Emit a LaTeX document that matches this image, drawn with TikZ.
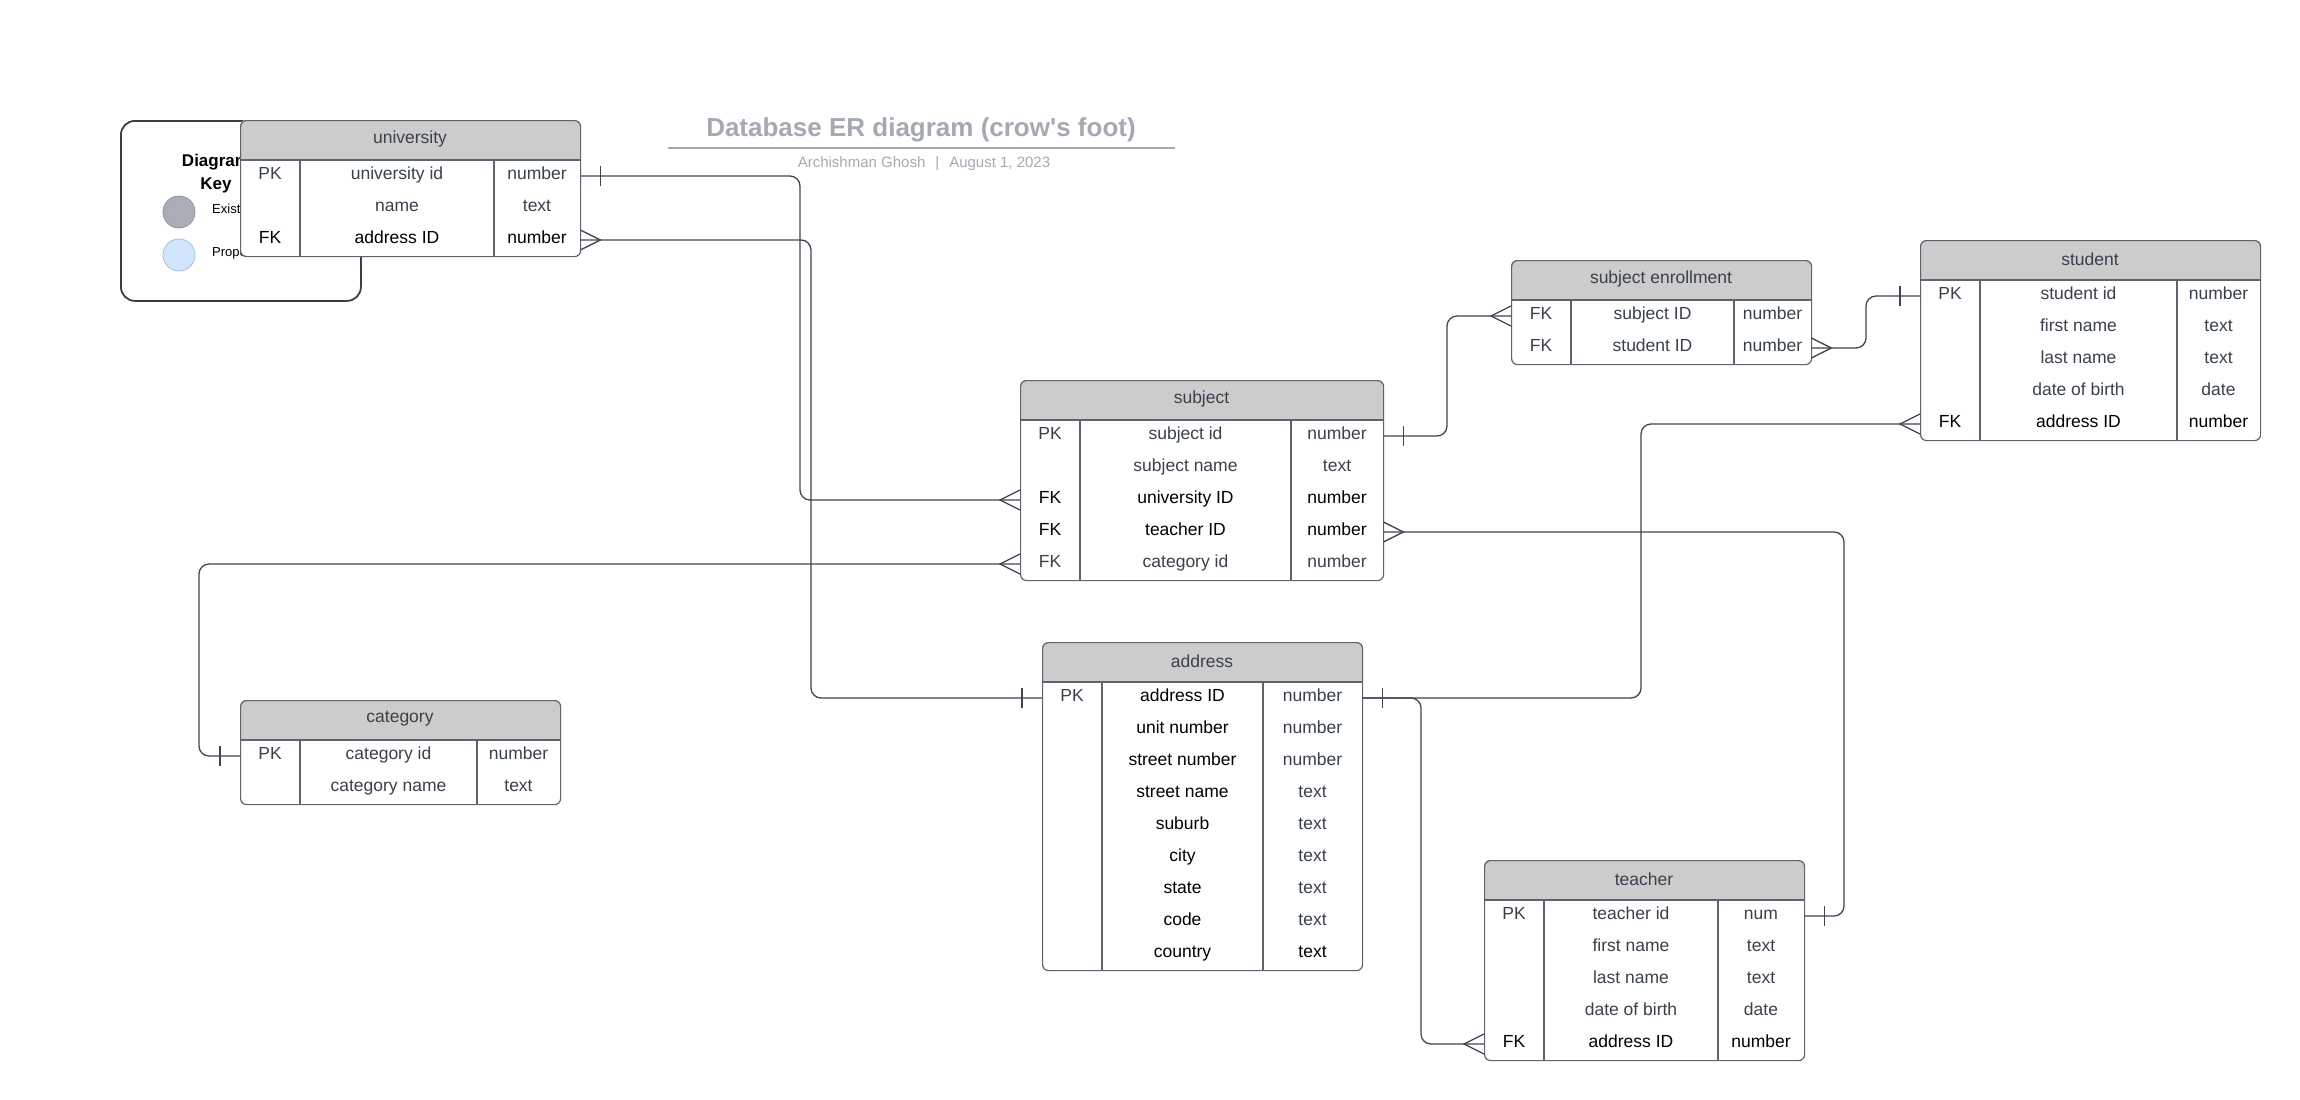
\documentclass[tikz,border=0pt]{standalone}
\usepackage{fontspec}
\setmainfont{Liberation Sans}
\usetikzlibrary{calc}

\definecolor{headfill}{HTML}{CCCCCC}
\definecolor{tabcol}{HTML}{5E646D}
\definecolor{conncol}{HTML}{40464F}
\definecolor{tg}{HTML}{3A414B}
\definecolor{tk}{HTML}{000000}
\definecolor{titlegray}{HTML}{A5A9B2}
\definecolor{keygray}{HTML}{A9ADB5}
\definecolor{keygrayedge}{HTML}{8E939B}
\definecolor{keyblue}{HTML}{D1E5FC}
\definecolor{keyblueedge}{HTML}{A9BFD8}
\definecolor{keyedge}{HTML}{3A3F47}

\tikzset{
  tabline/.style={draw=tabcol, line width=1.2pt},
  conn/.style={draw=conncol, line width=1.3pt, rounded corners=10},
  endmk/.style={draw=conncol, line width=1.3pt},
  headtext/.style={font=\fontsize{17.5}{20}\selectfont, text=tg, inner sep=0},
  celltext/.style={font=\fontsize{17.5}{20}\selectfont, inner sep=0, anchor=base},
  rowbox/.style={rectangle, inner sep=0, minimum height=32},
}

% crow's foot (many) at an entity edge; #2 = +1 to the right, -1 to the left
\newcommand\crowout[2]{%
  \draw[endmk] ($(#1)+(0,-10)$) -- ($(#1)+(#2*20,0)$) -- ($(#1)+(0,10)$);}
% single bar (one) at an entity edge
\newcommand\barout[2]{%
  \draw[endmk] ($(#1)+(#2*20,-10)$) -- ($(#1)+(#2*20,10)$);}

% entity table: name, x, y, width, first divider, second divider, title, rows, row list
\newcommand\ertable[9]{%
  \pgfmathsetmacro\tabh{40+32*#8}
  \fill[white, rounded corners=6] (#2,#3) rectangle ++(#4,\tabh);
  \begin{scope}
    \clip[rounded corners=6] (#2,#3) rectangle ++(#4,\tabh);
    \fill[headfill] (#2,#3) rectangle ++(#4,40);
  \end{scope}
  \draw[tabline] (#2,#3+40) -- ++(#4,0);
  \draw[tabline] (#2+#5,#3+40) -- ++(0,32*#8);
  \draw[tabline] (#2+#6,#3+40) -- ++(0,32*#8);
  \node[headtext] (#1-title) at (#2+#4/2,#3+19) {#7};
  \foreach \kk/\ff/\tt/\ca/\cb/\cc [count=\i] in {#9} {
    \node[rowbox, minimum width=#4, anchor=west] (#1-\i) at (#2,#3+40+32*\i-16) {};
    \node[celltext, text=\ca] (#1-\i-k) at (#2+#5/2,#3+40+32*\i-12.5) {\kk};
    \node[celltext, text=\cb] (#1-\i-f) at (#2+#5/2+#6/2,#3+40+32*\i-12.5) {\ff};
    \node[celltext, text=\cc] (#1-\i-t) at (#2+#6/2+#4/2,#3+40+32*\i-12.5) {\tt};
  }
  \node[draw=tabcol, line width=1.2pt, rounded corners=6, inner sep=0,
        minimum width=#4, minimum height=\tabh, anchor=north west] (#1) at (#2,#3) {};
}

\begin{document}
\begin{tikzpicture}[x=1pt, y=-1pt]
\fill[white] (0,0) rectangle (2300,1100);
\useasboundingbox (0,0) rectangle (2300,1100);

% title block
\node[font=\bfseries\fontsize{26}{30}\selectfont, text=titlegray] (title) at (921,130)
  {Database ER diagram (crow\textquotesingle s foot)};
\draw[titlegray, line width=1.8pt] (668,148) -- (1175,148);
\node[font=\fontsize{15}{17}\selectfont, text=titlegray] (subtitle) at (924,164)
  {Archishman Ghosh\hspace{10pt}|\hspace{10pt}August 1, 2023};

% diagram key
\node[draw=keyedge, line width=1.8pt, rounded corners=14, inner sep=0,
      minimum width=240, minimum height=180, anchor=north west] (keybox) at (120,120) {};
\node[font=\bfseries\fontsize{17}{23}\selectfont, align=center, inner sep=0] (keytitle) at (216,174) {Diagram\\Key};
\node[circle, fill=keygray, draw=keygrayedge, line width=0.8pt, minimum size=32, inner sep=0] (keyexist) at (179,212) {};
\node[circle, fill=keyblue, draw=keyblueedge, line width=0.8pt, minimum size=32, inner sep=0] (keyprop) at (179,255) {};
\node[anchor=west, font=\fontsize{13}{15}\selectfont, inner sep=0] (keyexistlbl) at (212,210) {Existing table};
\node[anchor=west, font=\fontsize{13}{15}\selectfont, inner sep=0] (keyproplbl) at (212,253) {Proposed table};

% connector channels
\coordinate (xa) at (800,0);
\coordinate (xb) at (811,0);
\coordinate (xc) at (1447,0);
\coordinate (xd) at (1866,0);
\coordinate (xe) at (1641,0);
\coordinate (xf) at (1421,0);
\coordinate (xg) at (1844,0);
\coordinate (xh) at (199,0);

% entities
\ertable{univ}{240}{120}{340}{60}{254}{university}{3}{%
  PK/university id/number/tg/tg/tg,
  {}/name/text/tg/tg/tg,
  FK/address ID/number/tk/tk/tk}
\ertable{subj}{1020}{380}{363}{60}{271}{subject}{5}{%
  PK/subject id/number/tg/tg/tg,
  {}/subject name/text/tg/tg/tg,
  FK/university ID/number/tk/tk/tk,
  FK/teacher ID/number/tk/tk/tk,
  FK/category id/number/tg/tg/tg}
\ertable{enr}{1511}{260}{300}{60}{223}{subject enrollment}{2}{%
  FK/subject ID/number/tg/tg/tg,
  FK/student ID/number/tg/tg/tg}
\ertable{stud}{1920}{240}{340}{60}{257}{student}{5}{%
  PK/student id/number/tg/tg/tg,
  {}/first name/text/tg/tg/tg,
  {}/last name/text/tg/tg/tg,
  {}/date of birth/date/tg/tg/tg,
  FK/address ID/number/tk/tk/tk}
\ertable{cat}{240}{700}{320}{60}{237}{category}{2}{%
  PK/category id/number/tg/tg/tg,
  {}/category name/text/tg/tg/tg}
\ertable{addr}{1042}{642}{320}{60}{221}{address}{9}{%
  PK/address ID/number/tg/tk/tg,
  {}/unit number/number/tg/tk/tg,
  {}/street number/number/tg/tk/tg,
  {}/street name/text/tg/tk/tg,
  {}/suburb/text/tg/tk/tg,
  {}/city/text/tg/tk/tg,
  {}/state/text/tg/tk/tg,
  {}/code/text/tg/tk/tg,
  {}/country/text/tg/tk/tk}
\ertable{teach}{1484}{860}{320}{60}{234}{teacher}{5}{%
  PK/teacher id/num/tg/tg/tg,
  {}/first name/text/tg/tg/tg,
  {}/last name/text/tg/tg/tg,
  {}/date of birth/date/tg/tg/tg,
  FK/address ID/number/tk/tk/tk}

% relationships
\draw[conn] (univ-1.east) -- (univ-1.east -| xa) |- (subj-3.west);
\barout{univ-1.east}{1}
\crowout{subj-3.west}{-1}

\draw[conn] (univ-3.east) -- (univ-3.east -| xb) |- (addr-1.west);
\crowout{univ-3.east}{1}
\barout{addr-1.west}{-1}

\draw[conn] (subj-1.east) -- (subj-1.east -| xc) |- (enr-1.west);
\barout{subj-1.east}{1}
\crowout{enr-1.west}{-1}

\draw[conn] (enr-2.east) -- (enr-2.east -| xd) |- (stud-1.west);
\crowout{enr-2.east}{1}
\barout{stud-1.west}{-1}

\draw[conn] (stud-5.west) -- (stud-5.west -| xe) |- (addr-1.east);
\crowout{stud-5.west}{-1}
\barout{addr-1.east}{1}

\draw[conn] (addr-1.east) -- (addr-1.east -| xf) |- (teach-5.west);
\crowout{teach-5.west}{-1}

\draw[conn] (subj-4.east) -- (subj-4.east -| xg) |- (teach-1.east);
\crowout{subj-4.east}{1}
\barout{teach-1.east}{1}

\draw[conn] (subj-5.west) -- (subj-5.west -| xh) |- (cat-1.west);
\crowout{subj-5.west}{-1}
\barout{cat-1.west}{-1}
\end{tikzpicture}
\end{document}
